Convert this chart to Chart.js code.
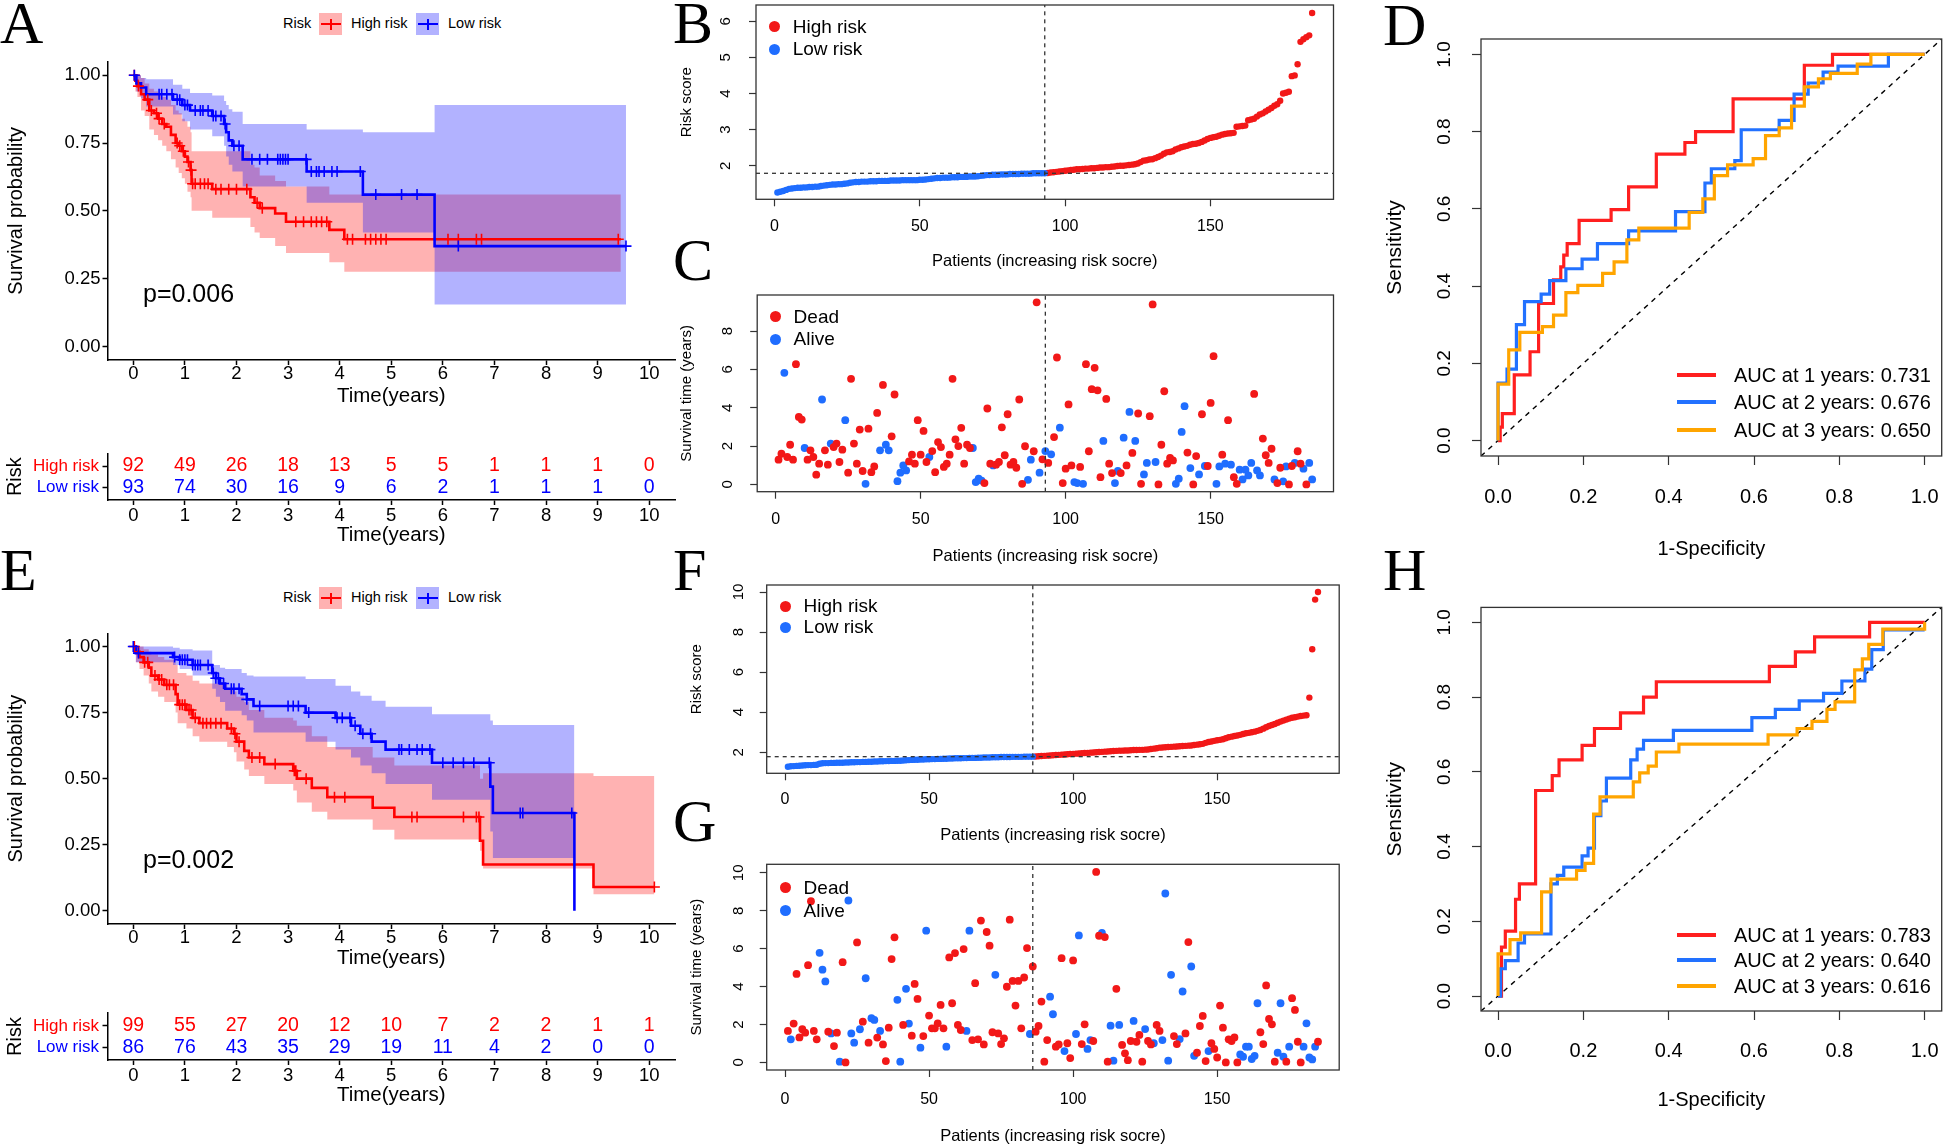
<!DOCTYPE html>
<html>
<head>
<meta charset="utf-8">
<title>Risk model panels</title>
<script src="https://cdn.jsdelivr.net/npm/chart.js@4.4.1/dist/chart.umd.min.js"></script>
<style>
  html, body { margin: 0; padding: 0; background: #fff; }
  #page { position: relative; width: 1944px; height: 1148px; overflow: hidden; background: #fff; }
  #page canvas { position: absolute; }
  .txt { position: absolute; white-space: nowrap; }
  .key { position: absolute; }
</style>
</head>
<body>
<div id="page">
  <canvas id="kmA"></canvas>
  <canvas id="tabA"></canvas>
  <canvas id="kmE"></canvas>
  <canvas id="tabE"></canvas>
  <canvas id="scoreB"></canvas>
  <canvas id="survC"></canvas>
  <canvas id="scoreF"></canvas>
  <canvas id="survG"></canvas>
  <canvas id="rocD"></canvas>
  <canvas id="rocH"></canvas>
</div>
<script>
// ---------- values ----------

// Kaplan-Meier panels (A = training set, E = validation set)
const kmYears = [0, 1, 2, 3, 4, 5, 6, 7, 8, 9, 10];
const kmProbTicks = [0, 0.25, 0.5, 0.75, 1];

const aHighTime  = [0, 0.04, 0.08, 0.15, 0.22, 0.31, 0.40, 0.48, 0.56, 0.64, 0.73, 0.82, 0.88, 0.94, 1.0, 1.05, 1.11, 1.13, 1.53, 2.27, 2.35, 2.45, 2.75, 2.96, 3.80, 4.09, 9.45];
const aHighSurv  = [1, 0.98, 0.96, 0.93, 0.91, 0.87, 0.86, 0.84, 0.82, 0.81, 0.78, 0.75, 0.74, 0.72, 0.70, 0.68, 0.65, 0.60, 0.58, 0.55, 0.53, 0.51, 0.49, 0.46, 0.43, 0.395, 0.395];
const aHighUpper = [1, 1, 1, 0.99, 0.97, 0.95, 0.94, 0.93, 0.92, 0.91, 0.89, 0.87, 0.86, 0.84, 0.83, 0.81, 0.79, 0.72, 0.72, 0.67, 0.66, 0.63, 0.61, 0.59, 0.56, 0.56, 0.56];
const aHighLower = [1, 0.94, 0.92, 0.87, 0.85, 0.80, 0.78, 0.76, 0.74, 0.72, 0.69, 0.66, 0.64, 0.62, 0.60, 0.57, 0.55, 0.50, 0.475, 0.44, 0.42, 0.40, 0.37, 0.345, 0.31, 0.275, 0.275];
const aHighCensor = [0.02, 0.1, 0.28, 0.35, 0.45, 0.5, 0.6, 0.85, 0.9, 0.97, 1.07, 1.12, 1.15, 1.2, 1.3, 1.38, 1.45, 1.6, 1.7, 1.85, 2.0, 2.2, 2.4, 2.5, 3.15, 3.3, 3.45, 3.55, 3.65, 3.75, 4.15, 4.25, 4.5, 4.6, 4.7, 4.8, 4.9, 6.1, 6.3, 6.65, 6.75, 9.4];

const aLowTime  = [0, 0.06, 0.15, 0.25, 0.77, 0.95, 1.1, 1.53, 1.76, 1.80, 1.85, 1.92, 2.12, 3.36, 4.45, 5.84, 9.55];
const aLowSurv  = [1, 0.97, 0.955, 0.93, 0.91, 0.89, 0.87, 0.85, 0.82, 0.79, 0.76, 0.74, 0.69, 0.645, 0.56, 0.37, 0.37];
const aLowUpper = [1, 1, 0.99, 0.985, 0.965, 0.95, 0.935, 0.925, 0.905, 0.89, 0.875, 0.865, 0.82, 0.80, 0.79, 0.89, 0.89];
const aLowLower = [1, 0.94, 0.915, 0.885, 0.855, 0.83, 0.80, 0.775, 0.74, 0.70, 0.67, 0.645, 0.59, 0.53, 0.42, 0.155, 0.155];
const aLowCensor = [0.02, 0.5, 0.55, 0.65, 0.75, 0.85, 0.9, 1.0, 1.05, 1.2, 1.3, 1.35, 1.45, 1.55, 1.6, 1.7, 1.78, 1.95, 2.05, 2.3, 2.45, 2.6, 2.8, 2.85, 2.9, 2.95, 3.0, 3.35, 3.45, 3.55, 3.6, 3.7, 3.85, 3.95, 4.4, 4.7, 5.2, 5.5, 6.3, 9.55];

const eHighTime  = [0, 0.05, 0.12, 0.2, 0.3, 0.35, 0.48, 0.6, 0.82, 0.86, 1.03, 1.15, 1.28, 1.82, 1.95, 2.0, 2.15, 2.24, 2.54, 3.1, 3.17, 3.46, 3.76, 4.64, 5.06, 6.72, 6.78, 8.92, 10.1];
const eHighSurv  = [1, 0.98, 0.96, 0.94, 0.92, 0.89, 0.875, 0.855, 0.82, 0.78, 0.76, 0.73, 0.71, 0.69, 0.67, 0.64, 0.605, 0.58, 0.555, 0.53, 0.50, 0.465, 0.43, 0.39, 0.355, 0.265, 0.175, 0.09, 0.09];
const eHighUpper = [1, 1, 1, 0.99, 0.98, 0.97, 0.96, 0.95, 0.93, 0.90, 0.89, 0.87, 0.86, 0.84, 0.83, 0.81, 0.79, 0.76, 0.73, 0.72, 0.70, 0.66, 0.62, 0.58, 0.55, 0.50, 0.52, 0.51, 0.51];
const eHighLower = [1, 0.94, 0.915, 0.89, 0.86, 0.83, 0.81, 0.79, 0.75, 0.71, 0.69, 0.66, 0.64, 0.62, 0.60, 0.565, 0.535, 0.51, 0.48, 0.455, 0.41, 0.375, 0.345, 0.307, 0.27, 0.227, 0.16, 0.063, 0.015];
const eHighCensor = [0.02, 0.1, 0.22, 0.28, 0.42, 0.5, 0.55, 0.65, 0.7, 0.78, 0.9, 0.95, 1.0, 1.08, 1.12, 1.2, 1.35, 1.42, 1.5, 1.6, 1.7, 1.9, 1.97, 2.05, 2.3, 2.45, 2.75, 3.12, 3.15, 3.35, 3.9, 4.1, 5.4, 5.5, 6.4, 6.65, 6.7, 10.1];

const eLowTime  = [0, 0.05, 0.77, 0.9, 1.15, 1.53, 1.6, 1.68, 1.78, 2.1, 2.2, 2.33, 3.34, 3.92, 4.22, 4.4, 4.62, 4.89, 5.79, 6.92, 6.97, 8.55];
const eLowSurv  = [1, 0.975, 0.96, 0.95, 0.93, 0.90, 0.88, 0.86, 0.84, 0.82, 0.80, 0.775, 0.75, 0.73, 0.70, 0.67, 0.64, 0.61, 0.56, 0.47, 0.37, 0];
const eLowUpper = [1, 1, 0.995, 0.99, 0.985, 0.93, 0.93, 0.92, 0.915, 0.90, 0.89, 0.887, 0.877, 0.852, 0.83, 0.814, 0.795, 0.772, 0.744, 0.72, 0.703, 0.703];
const eLowLower = [1, 0.94, 0.93, 0.915, 0.89, 0.84, 0.81, 0.79, 0.757, 0.74, 0.72, 0.675, 0.64, 0.61, 0.58, 0.55, 0.52, 0.48, 0.42, 0.30, 0.20, 0.20];
const eLowCensor = [0.0, 0.1, 0.8, 0.9, 0.95, 1.0, 1.05, 1.15, 1.2, 1.25, 1.3, 1.45, 1.55, 1.6, 1.65, 1.75, 1.9, 1.95, 2.05, 2.2, 2.45, 3.0, 3.1, 3.2, 3.4, 3.95, 4.05, 4.2, 4.3, 4.45, 4.6, 5.15, 5.2, 5.35, 5.5, 5.6, 5.75, 6.0, 6.2, 6.4, 6.6, 6.9, 7.5, 7.55, 8.5];

const aAtRiskHigh = [92, 49, 26, 18, 13, 5, 5, 1, 1, 1, 0];
const aAtRiskLow  = [93, 74, 30, 16, 9, 6, 2, 1, 1, 1, 0];
const eAtRiskHigh = [99, 55, 27, 20, 12, 10, 7, 2, 2, 1, 1];
const eAtRiskLow  = [86, 76, 43, 35, 29, 19, 11, 4, 2, 0, 0];
const pValueA = 'p=0.006';
const pValueE = 'p=0.002';

// risk score curves (B, F), patients sorted by score
const patientTicks = [0, 50, 100, 150];
const bScoreLow = [1.26, 1.28, 1.30, 1.33, 1.36, 1.37, 1.38, 1.39, 1.39, 1.40, 1.40, 1.41, 1.41, 1.42, 1.42, 1.44, 1.45, 1.46, 1.47, 1.48,
  1.48, 1.49, 1.49, 1.50, 1.51, 1.53, 1.54, 1.55, 1.55, 1.56, 1.56, 1.56, 1.57, 1.57, 1.57, 1.58, 1.58, 1.58, 1.58, 1.59,
  1.59, 1.59, 1.59, 1.60, 1.60, 1.60, 1.60, 1.60, 1.60, 1.61, 1.61, 1.62, 1.63, 1.64, 1.65, 1.66, 1.66, 1.67, 1.67, 1.67,
  1.68, 1.68, 1.68, 1.69, 1.69, 1.69, 1.70, 1.70, 1.70, 1.71, 1.72, 1.73, 1.74, 1.74, 1.75, 1.75, 1.75, 1.76, 1.76, 1.76,
  1.77, 1.77, 1.77, 1.77, 1.78, 1.78, 1.78, 1.78, 1.79, 1.79, 1.79, 1.79, 1.79];
const bScoreHigh = [1.80, 1.81, 1.82, 1.83, 1.84, 1.85, 1.86, 1.87, 1.88, 1.89, 1.90, 1.90, 1.91, 1.92, 1.92, 1.93, 1.93, 1.94, 1.95, 1.95,
  1.96, 1.96, 1.97, 1.98, 1.99, 2.00, 2.00, 2.01, 2.02, 2.03, 2.04, 2.06, 2.10, 2.14, 2.15, 2.17, 2.18, 2.21, 2.24, 2.28,
  2.33, 2.37, 2.38, 2.40, 2.45, 2.48, 2.51, 2.53, 2.55, 2.58, 2.60, 2.61, 2.63, 2.66, 2.70, 2.74, 2.77, 2.79, 2.80, 2.83,
  2.86, 2.88, 2.89, 2.90, 2.91, 3.08, 3.09, 3.10, 3.11, 3.26, 3.28, 3.30, 3.36, 3.42, 3.45, 3.50, 3.55, 3.60, 3.66, 3.70,
  3.80, 4.00, 4.02, 4.05, 4.48, 4.50, 4.81, 5.43, 5.50, 5.56, 5.61, 6.23];
const bCutoff = 1.79;
const bScoreTicks = [2, 3, 4, 5, 6];

const fScoreLow = [1.28, 1.30, 1.31, 1.32, 1.33, 1.34, 1.35, 1.36, 1.36, 1.37, 1.38, 1.43, 1.45, 1.46, 1.46, 1.47, 1.47, 1.48, 1.48, 1.48,
  1.49, 1.49, 1.50, 1.50, 1.51, 1.51, 1.52, 1.52, 1.53, 1.53, 1.54, 1.54, 1.55, 1.55, 1.56, 1.56, 1.57, 1.57, 1.58, 1.58,
  1.59, 1.60, 1.61, 1.62, 1.63, 1.63, 1.64, 1.64, 1.65, 1.65, 1.66, 1.66, 1.67, 1.67, 1.68, 1.68, 1.69, 1.69, 1.70, 1.70,
  1.70, 1.71, 1.71, 1.72, 1.72, 1.72, 1.73, 1.73, 1.74, 1.74, 1.74, 1.75, 1.75, 1.75, 1.76, 1.76, 1.76, 1.76, 1.77, 1.77,
  1.77, 1.77, 1.78, 1.78, 1.78, 1.78];
const fScoreHigh = [1.79, 1.80, 1.81, 1.82, 1.83, 1.84, 1.85, 1.86, 1.87, 1.88, 1.89, 1.90, 1.91, 1.92, 1.93, 1.94, 1.95, 1.96, 1.97, 1.98,
  1.99, 2.00, 2.01, 2.02, 2.03, 2.04, 2.05, 2.06, 2.07, 2.08, 2.08, 2.09, 2.09, 2.10, 2.11, 2.11, 2.12, 2.12, 2.13, 2.14,
  2.16, 2.18, 2.20, 2.23, 2.24, 2.25, 2.26, 2.27, 2.28, 2.29, 2.30, 2.31, 2.32, 2.33, 2.34, 2.36, 2.38, 2.40, 2.42, 2.47,
  2.51, 2.54, 2.57, 2.60, 2.62, 2.65, 2.70, 2.75, 2.78, 2.81, 2.84, 2.87, 2.91, 2.95, 2.97, 3.00, 3.03, 3.07, 3.11, 3.18,
  3.25, 3.31, 3.36, 3.41, 3.47, 3.53, 3.58, 3.63, 3.68, 3.72, 3.75, 3.78, 3.81, 3.83, 3.85, 4.73, 7.14, 9.62, 10.0];
const fCutoff = 1.78;
const fScoreTicks = [2, 4, 6, 8, 10];

// survival time (years) and status (1 = dead, 0 = alive) in the same patient order (C, G)
const cTime = [1.29, 1.60, 5.82, 1.43, 2.07, 1.29, 6.27, 3.52, 3.38, 1.90, 1.29, 1.78, 1.43, 0.51, 1.08, 4.43, 1.78, 1.03, 2.13, 1.95,
  2.13, 1.17, 1.81, 3.35, 0.61, 5.51, 2.13, 1.08, 2.86, 0.70, 0.03, 2.91, 0.64, 0.94, 3.73, 1.78, 5.19, 2.07, 1.78, 2.51,
  4.69, 0.17, 0.61, 0.99, 0.73, 1.20, 1.55, 1.08, 3.35, 1.55, 2.79, 1.17, 1.43, 1.74, 0.64, 2.21, 1.95, 0.91, 1.08, 1.55,
  5.51, 2.35, 2.00, 2.95, 1.08, 2.07, 1.90, 1.90, 0.12, 0.30, 0.20, 0.07, 3.96, 1.08, 0.99, 1.03, 1.17, 2.98, 1.52, 3.66,
  1.03, 1.17, 0.87, 4.43, 0.03, 1.99, 0.24, 1.29, 1.73, 9.50, 0.61, 1.31, 1.74, 1.12, 1.57, 2.47, 6.62, 2.96, 0.07, 0.82,
  4.17, 0.99, 0.12, 0.07, 0.91, 0.03, 6.27, 1.73, 4.97, 6.08, 4.91, 0.38, 2.27, 4.46, 1.08, 0.59, 0.07, 0.70, 0.59, 2.44,
  0.99, 3.78, 1.64, 2.27, 3.70, 0.03, 0.52, 1.12, 3.56, 9.39, 1.17, 0.00, 2.07, 4.86, 1.08, 1.38, 1.25, 0.03, 0.30, 2.74,
  4.08, 1.66, 0.85, 0.00, 1.48, 0.52, 3.66, 0.96, 0.96, 4.25, 6.69, 0.03, 0.94, 1.55, 1.08, 3.35, 1.03, 0.38, 0.03, 0.77,
  0.26, 0.77, 0.47, 1.12, 4.72, 0.73, 0.47, 2.39, 1.52, 1.12, 1.86, 0.26, 0.07, 0.87, 0.16, 0.94, 0.00, 0.96, 1.12, 1.73,
  1.08, 0.82, 0.00, 1.12, 0.26];
const cStatus = [1,1,0,1,1,1,1,1,1,0, 1,1,1,1,1,0,1,1,0,1, 1,1,1,0,1,1,1,1,1,1, 0,1,1,1,1,0,1,0,0,1,
  1,0,0,0,0,1,1,1,1,1, 1,1,0,1,1,1,1,1,1,1, 1,1,1,1,1,1,1,0,0,0, 0,1,1,1,0,1,1,1,1,1,
  1,1,1,1,1,1,0,0,1,1, 0,1,0,1,0,1,1,0,1,1, 1,1,0,0,1,0,1,1,1,1, 1,1,0,1,1,1,0,0,1,0,
  1,0,1,0,1,1,0,0,1,1, 0,1,1,1,1,1,1,0,0,0, 0,1,0,1,1,0,1,0,1,1, 1,0,0,1,0,1,0,1,1,0,
  0,0,0,0,1,0,0,1,1,1, 1,0,1,1,0,0,1,1,0,1, 1,0,1,0,0];
const cTimeTicks = [0, 2, 4, 6, 8];

const gTime = [1.66, 1.22, 2.05, 4.67, 1.32, 1.75, 1.57, 5.13, 8.50, 1.66, 1.22, 5.78, 4.89, 4.27, 1.62, 1.53, 0.86, 1.57, 0.04, 5.29,
  0.00, 8.54, 1.53, 1.04, 6.33, 1.75, 2.15, 4.44, 1.04, 2.33, 2.24, 1.31, 1.66, 0.95, 0.07, 1.83, 5.45, 6.60, 3.30, 0.04,
  1.98, 3.88, 2.05, 1.41, 4.14, 3.35, 0.78, 1.39, 6.95, 2.47, 1.80, 1.80, 2.06, 3.03, 1.80, 0.83, 5.54, 3.12, 5.77, 1.98,
  1.71, 5.98, 1.66, 6.95, 1.18, 4.18, 1.22, 7.48, 0.95, 6.88, 6.16, 1.59, 4.62, 1.53, 0.97, 1.27, 3.99, 7.53, 4.30, 3.00,
  4.30, 1.80, 4.48, 6.03, 1.50, 5.06, 1.62, 1.92, 3.21, 0.04, 1.18, 3.47, 2.54, 0.83, 0.95, 5.50, 0.60, 1.01, 0.23, 5.38,
  1.50, 6.70, 0.97, 2.01, 0.71, 1.18, 1.13, 10.05, 6.68, 6.83, 6.61, 0.04, 1.94, 0.09, 3.88, 1.98, 0.92, 0.48, 0.12, 1.13,
  2.19, 1.09, 1.45, 0.04, 1.76, 1.13, 0.95, 1.01, 1.98, 1.66, 1.18, 8.91, 0.09, 4.62, 1.39, 0.97, 1.23, 3.74, 1.53, 6.35,
  5.06, 0.35, 0.51, 1.92, 2.45, 0.07, 0.60, 1.01, 0.71, 0.26, 3.00, 1.83, 0.00, 1.22, 1.13, 1.32, 0.00, 0.42, 0.30, 0.83,
  0.83, 0.18, 0.35, 3.12, 1.59, 0.97, 4.06, 2.29, 2.01, 0.04, 0.51, 3.12, 0.30, 0.04, 0.83, 3.39, 2.77, 1.09, 0.00, 0.83,
  2.06, 0.26, 0.16, 0.83, 1.09];
const gStatus = [1,0,1,1,1,1,1,1,1,1, 1,0,0,0,1,0,1,1,0,1, 1,0,0,0,1,0,1,0,1,0, 0,1,0,1,1,1,1,1,0,0,
  1,0,0,1,1,1,0,1,0,1, 1,1,1,1,1,0,1,1,1,1, 1,1,0,0,1,1,1,1,1,1, 1,1,0,1,1,1,1,1,1,1,
  1,1,1,1,0,1,1,1,1,1, 1,0,0,1,1,1,0,1,1,1, 0,0,1,1,0,0,1,1,1,0, 1,1,0,0,1,0,1,1,1,1,
  0,1,1,1,0,1,1,0,1,1, 0,0,0,0,1,1,0,0,1,1, 0,0,1,1,1,1,0,1,1,1, 1,1,1,1,1,1,1,0,0,0,
  0,0,0,0,1,1,1,1,1,1, 0,0,0,1,0,1,1,1,1,0, 0,0,0,0,1];
const gTimeTicks = [0, 2, 4, 6, 8, 10];

// time-dependent ROC curves (D, H): corner points, 1-specificity / sensitivity
const rocTicks = [0, 0.2, 0.4, 0.6, 0.8, 1.0];
const dFpr1 = [0, 0.005, 0.01, 0.038, 0.075, 0.095, 0.13, 0.147, 0.154, 0.162, 0.19, 0.265, 0.306, 0.371, 0.438, 0.463, 0.551, 0.718, 0.784, 1.0];
const dTpr1 = [0, 0.035, 0.07, 0.17, 0.23, 0.355, 0.416, 0.45, 0.48, 0.51, 0.57, 0.598, 0.657, 0.742, 0.772, 0.80, 0.885, 0.972, 1.0, 1.0];
const dFpr2 = [0, 0, 0.021, 0.043, 0.062, 0.101, 0.121, 0.159, 0.197, 0.233, 0.306, 0.416, 0.485, 0.5, 0.555, 0.57, 0.659, 0.694, 0.727, 0.762, 0.797, 0.915, 1.0];
const dTpr2 = [0, 0.149, 0.185, 0.30, 0.36, 0.379, 0.414, 0.445, 0.47, 0.51, 0.543, 0.593, 0.667, 0.704, 0.725, 0.805, 0.829, 0.897, 0.926, 0.954, 0.97, 1.0, 1.0];
const dFpr3 = [0, 0, 0.025, 0.051, 0.104, 0.13, 0.159, 0.187, 0.245, 0.272, 0.302, 0.33, 0.448, 0.48, 0.507, 0.538, 0.598, 0.627, 0.659, 0.688, 0.718, 0.751, 0.779, 0.842, 0.874, 1.0];
const dTpr3 = [0, 0.146, 0.235, 0.28, 0.295, 0.325, 0.383, 0.402, 0.433, 0.463, 0.52, 0.55, 0.591, 0.626, 0.686, 0.714, 0.73, 0.79, 0.81, 0.866, 0.916, 0.937, 0.951, 0.975, 1.0, 1.0];
const dAuc = [0.731, 0.676, 0.650];

const hFpr1 = [0, 0.008, 0.017, 0.041, 0.05, 0.088, 0.127, 0.143, 0.197, 0.226, 0.287, 0.341, 0.371, 0.636, 0.697, 0.742, 0.871, 1.0];
const hTpr1 = [0, 0.131, 0.174, 0.259, 0.30, 0.55, 0.59, 0.632, 0.671, 0.716, 0.758, 0.80, 0.841, 0.882, 0.921, 0.961, 1.0, 1.0];
const hFpr2 = [0, 0.006, 0.017, 0.047, 0.062, 0.124, 0.139, 0.154, 0.197, 0.211, 0.226, 0.241, 0.254, 0.311, 0.326, 0.341, 0.411, 0.595, 0.65, 0.706, 0.763, 0.806, 0.86, 0.876, 0.903, 1.0];
const hTpr2 = [0, 0.073, 0.095, 0.142, 0.166, 0.30, 0.323, 0.345, 0.375, 0.396, 0.483, 0.522, 0.583, 0.632, 0.661, 0.684, 0.711, 0.745, 0.767, 0.79, 0.81, 0.843, 0.875, 0.927, 0.98, 0.98];
const hFpr3 = [0, 0, 0.028, 0.053, 0.102, 0.124, 0.184, 0.204, 0.224, 0.239, 0.317, 0.332, 0.352, 0.371, 0.424, 0.633, 0.701, 0.736, 0.771, 0.79, 0.836, 0.854, 0.869, 0.902, 1.0];
const hTpr3 = [0, 0.113, 0.151, 0.169, 0.279, 0.313, 0.336, 0.355, 0.487, 0.533, 0.573, 0.597, 0.615, 0.653, 0.674, 0.699, 0.716, 0.735, 0.767, 0.787, 0.873, 0.902, 0.941, 0.982, 1.0];
const hAuc = [0.783, 0.640, 0.616];

// ---------- styling ----------
const RED = '#FF0000', BLUE = '#0000FF';
const PT_RED = '#F21818', PT_BLUE = '#1F6DFF';
const ROC_COLORS = ['#FF1F1F', '#2271FF', '#FFA500'];
const SANS = '"Liberation Sans", Arial, sans-serif';
const SERIF = '"Liberation Serif", "Times New Roman", serif';

Chart.defaults.font.family = SANS;
Chart.defaults.color = '#000';

const page = document.getElementById('page');
const atRiskTables = {};

function place(id, box) {
  const c = document.getElementById(id);
  c.width = box[2]; c.height = box[3];
  c.style.left = box[0] + 'px'; c.style.top = box[1] + 'px';
  c.style.width = box[2] + 'px'; c.style.height = box[3] + 'px';
  return c;
}

// box = canvas [left, top, width, height], area = plot [left, top, right, bottom], page px
function geom(box, area, yTitleX, yTitleLH, xTitleY, xTitleLH) {
  const padL = yTitleX - yTitleLH / 2 - box[0];
  const xBottom = xTitleY + xTitleLH / 2;
  return {
    padding: {left: padL, top: area[1] - box[1], right: box[0] + box[2] - area[2], bottom: box[1] + box[3] - xBottom},
    yW: area[0] - box[0] - padL,
    xH: xBottom - area[3]
  };
}

function pts(xs, ys) { return xs.map((x, i) => ({x: x, y: ys[i]})); }

function survAt(t, times, surv) {
  let s = surv[0];
  for (let i = 0; i < times.length; i++) if (times[i] <= t) s = surv[i];
  return s;
}

// ---------- small plugins ----------
const framePlugin = {
  id: 'frame',
  afterDatasetsDraw(chart, args, opts) {
    if (!opts.color) return;
    const a = chart.chartArea, ctx = chart.ctx;
    ctx.save();
    ctx.strokeStyle = opts.color;
    ctx.lineWidth = opts.width;
    ctx.strokeRect(a.left, a.top, a.right - a.left, a.bottom - a.top);
    ctx.restore();
  }
};
const rotYPlugin = {
  id: 'rotY',
  afterDraw(chart, args, opts) {
    if (opts.x === undefined) return;
    const s = chart.scales.y, ctx = chart.ctx;
    ctx.save();
    ctx.font = opts.font;
    ctx.fillStyle = '#000';
    ctx.textAlign = 'center';
    ctx.textBaseline = 'middle';
    s.ticks.forEach(t => {
      ctx.save();
      ctx.translate(opts.x, s.getPixelForValue(t.value));
      ctx.rotate(-Math.PI / 2);
      ctx.fillText(String(t.label), 0, 0);
      ctx.restore();
    });
    ctx.restore();
  }
};
const atRiskPlugin = {
  id: 'atRisk',
  afterDraw(chart) {
    const tab = atRiskTables[chart.canvas.id];
    if (!tab) return;
    const xs = chart.scales.x, ys = chart.scales.y, ctx = chart.ctx;
    ctx.save();
    ctx.font = '19.5px ' + SANS;
    ctx.textAlign = 'center';
    ctx.textBaseline = 'middle';
    kmYears.forEach((yr, i) => {
      ctx.fillStyle = RED;
      ctx.fillText(String(tab.high[i]), xs.getPixelForValue(yr), ys.getPixelForValue(2));
      ctx.fillStyle = BLUE;
      ctx.fillText(String(tab.low[i]), xs.getPixelForValue(yr), ys.getPixelForValue(1));
    });
    ctx.restore();
  }
};
Chart.register(framePlugin, rotYPlugin, atRiskPlugin);

// ---------- ggplot-like axes for the survival panels ----------
const ggGrid = {display: true, drawOnChartArea: false, drawTicks: true, tickLength: 5, tickWidth: 1.5, tickColor: '#000'};
const ggBorder = {display: true, color: '#000', width: 1.5};

function kmXAxis(geo, pad) {
  return {
    type: 'linear', min: -0.5, max: 10.5,
    afterBuildTicks: s => { s.ticks = kmYears.map(v => ({value: v})); },
    afterFit: s => { s.height = geo.xH; s.paddingLeft = 0; s.paddingRight = 0; },
    grid: ggGrid, border: ggBorder,
    ticks: {autoSkip: false, maxRotation: 0, minRotation: 0, padding: pad, color: '#000', font: {family: SANS, size: 18.5, lineHeight: 1}},
    title: {display: true, text: 'Time(years)', color: '#000', padding: 0, font: {family: SANS, size: 20.5, lineHeight: 1.2}}
  };
}

function kmChart(id, box, area, xTitleY, xPad, h, l) {
  place(id, box);
  const geo = geom(box, area, 16.5, 24, xTitleY, 24.6);
  const band = (t, v, color, fill, order) => ({
    type: 'line', data: pts(t, v), stepped: true, pointRadius: 0, borderWidth: 0,
    borderColor: 'rgba(0,0,0,0)', backgroundColor: color, fill: fill, order: order
  });
  const curve = (t, v, color, order) => ({
    type: 'line', data: pts(t, v), stepped: true, pointRadius: 0, borderWidth: 2.6,
    borderColor: color, fill: false, order: order
  });
  const marks = (c, t, v, color, order) => ({
    type: 'scatter', data: c.map(x => ({x: x, y: survAt(x, t, v)})), pointStyle: 'cross',
    pointRadius: 5.5, borderWidth: 1.6, borderColor: color, backgroundColor: color, order: order
  });
  return new Chart(document.getElementById(id), {
    type: 'line',
    data: {datasets: [
      band(h.time, h.upper, 'rgba(255,0,0,0.3)', '+1', 6),
      band(h.time, h.lower, 'rgba(0,0,0,0)', false, 6),
      band(l.time, l.upper, 'rgba(0,0,255,0.3)', '+1', 5),
      band(l.time, l.lower, 'rgba(0,0,0,0)', false, 5),
      curve(h.time, h.surv, RED, 4),
      curve(l.time, l.surv, BLUE, 3),
      marks(h.censor, h.time, h.surv, RED, 2),
      marks(l.censor, l.time, l.surv, BLUE, 1)
    ]},
    options: {
      responsive: false, animation: false, devicePixelRatio: 1, events: [],
      layout: {padding: geo.padding, autoPadding: false},
      plugins: {legend: {display: false}, tooltip: {enabled: false}},
      scales: {
        x: kmXAxis(geo, xPad),
        y: {
          type: 'linear', min: -0.05, max: 1.05,
          afterBuildTicks: s => { s.ticks = kmProbTicks.map(v => ({value: v})); },
          afterFit: s => { s.width = geo.yW; s.paddingTop = 0; s.paddingBottom = 0; },
          grid: ggGrid, border: ggBorder,
          ticks: {autoSkip: false, padding: 2, color: '#000', font: {family: SANS, size: 18.5}, callback: v => v.toFixed(2)},
          title: {display: true, text: 'Survival probability', color: '#000', padding: 0, font: {family: SANS, size: 20, lineHeight: 1.2}}
        }
      }
    }
  });
}

function riskTable(id, box, area, xTitleY, xPad, high, low) {
  place(id, box);
  atRiskTables[id] = {high: high, low: low};
  const geo = geom(box, area, 15, 24, xTitleY, 24.6);
  return new Chart(document.getElementById(id), {
    type: 'line',
    data: {datasets: []},
    options: {
      responsive: false, animation: false, devicePixelRatio: 1, events: [],
      layout: {padding: geo.padding, autoPadding: false},
      plugins: {legend: {display: false}, tooltip: {enabled: false}},
      scales: {
        x: kmXAxis(geo, xPad),
        y: {
          type: 'linear', min: 0.4, max: 2.6,
          afterBuildTicks: s => { s.ticks = [{value: 1}, {value: 2}]; },
          afterFit: s => { s.width = geo.yW; s.paddingTop = 0; s.paddingBottom = 0; },
          grid: ggGrid, border: ggBorder,
          ticks: {autoSkip: false, padding: 3.5, font: {family: SANS, size: 17},
                  color: c => (c.tick && c.tick.value === 2 ? RED : BLUE),
                  callback: v => (v === 2 ? 'High risk' : 'Low risk')},
          title: {display: true, text: 'Risk', color: '#000', padding: 0, font: {family: SANS, size: 20, lineHeight: 1.2}}
        }
      }
    }
  });
}

// ---------- base-R-like boxed panels ----------
function boxChart(id, box, area, s) {
  place(id, box);
  const geo = geom(box, area, s.yTitleX, s.yTitleSize * 1.2, s.xTitleY, s.xTitleSize * 1.2);
  const xPad = s.xLabelY - (area[3] + s.tickLen + s.xTickSize / 2);
  const grid = {display: true, drawOnChartArea: false, drawTicks: true, tickLength: s.tickLen, tickWidth: 1.2, tickColor: '#333'};
  return new Chart(document.getElementById(id), {
    type: 'scatter',
    data: {datasets: s.datasets},
    options: {
      responsive: false, animation: false, devicePixelRatio: 1, events: [],
      layout: {padding: geo.padding, autoPadding: false},
      plugins: {
        legend: {display: false}, tooltip: {enabled: false},
        frame: {color: '#333', width: 1.3},
        rotY: {x: s.yLabelX - box[0], font: s.yTickSize + 'px ' + SANS}
      },
      scales: {
        x: {
          type: 'linear', min: s.xMin, max: s.xMax,
          afterBuildTicks: sc => { sc.ticks = s.xTicks.map(v => ({value: v})); },
          afterFit: sc => { sc.height = geo.xH; sc.paddingLeft = 0; sc.paddingRight = 0; },
          grid: grid, border: {display: false},
          ticks: {autoSkip: false, maxRotation: 0, minRotation: 0, padding: xPad, color: '#000',
                  font: {family: SANS, size: s.xTickSize, lineHeight: 1}, callback: s.fmt},
          title: {display: true, text: s.xTitle, color: '#000', padding: 0, font: {family: SANS, size: s.xTitleSize, lineHeight: 1.2}}
        },
        y: {
          type: 'linear', min: s.yMin, max: s.yMax,
          afterBuildTicks: sc => { sc.ticks = s.yTicks.map(v => ({value: v})); },
          afterFit: sc => { sc.width = geo.yW; sc.paddingTop = 0; sc.paddingBottom = 0; },
          grid: grid, border: {display: false},
          ticks: {display: false, autoSkip: false, callback: s.fmt},
          title: {display: true, text: s.yTitle, color: '#000', padding: 0, font: {family: SANS, size: s.yTitleSize, lineHeight: 1.2}}
        }
      }
    }
  });
}

const dashed = (data) => ({type: 'line', data: data, borderColor: '#333', borderWidth: 1.3, borderDash: [4, 4], pointRadius: 0, fill: false});
const dots = (data, color, r) => ({data: data, backgroundColor: color, borderWidth: 0, pointRadius: r});
const intFmt = v => String(v);

function scoreDatasets(low, high, cutoff, yMin, yMax, xMin, xMax) {
  return [
    dashed([{x: low.length, y: yMin}, {x: low.length, y: yMax}]),
    dashed([{x: xMin, y: cutoff}, {x: xMax, y: cutoff}]),
    dots(low.map((v, i) => ({x: i + 1, y: v})), PT_BLUE, 3.2),
    dots(high.map((v, i) => ({x: low.length + i + 1, y: v})), PT_RED, 3.2)
  ];
}
function statusDatasets(time, status, split, yMin, yMax) {
  const dead = [], alive = [];
  time.forEach((t, i) => (status[i] ? dead : alive).push({x: i + 1, y: t}));
  return [
    dashed([{x: split, y: yMin}, {x: split, y: yMax}]),
    dots(dead, PT_RED, 3.9),
    dots(alive, PT_BLUE, 3.9)
  ];
}
function rocDatasets(curves) {
  const ds = curves.map((c, i) => ({
    type: 'line', data: pts(c[0], c[1]), stepped: true, borderColor: ROC_COLORS[i], borderWidth: 3.2,
    pointRadius: 0, fill: false, order: 3 - i
  }));
  ds.push({type: 'line', data: [{x: -0.04, y: -0.04}, {x: 1.04, y: 1.04}], borderColor: '#000', borderWidth: 1.4,
           borderDash: [5, 5], pointRadius: 0, fill: false, order: 5});
  return ds;
}

// ---------- build charts ----------
kmChart('kmA', [0, 50, 690, 365], [107.5, 61.7, 675, 360], 396.7, 0,
  {time: aHighTime, surv: aHighSurv, upper: aHighUpper, lower: aHighLower, censor: aHighCensor},
  {time: aLowTime, surv: aLowSurv, upper: aLowUpper, lower: aLowLower, censor: aLowCensor});
riskTable('tabA', [0, 440, 690, 120], [107.5, 453.3, 675, 500], 535, 2, aAtRiskHigh, aAtRiskLow);

kmChart('kmE', [0, 620, 690, 365], [107.5, 633.3, 675, 924], 958.3, -0.5,
  {time: eHighTime, surv: eHighSurv, upper: eHighUpper, lower: eHighLower, censor: eHighCensor},
  {time: eLowTime, surv: eLowSurv, upper: eLowUpper, lower: eLowLower, censor: eLowCensor});
riskTable('tabE', [0, 1000, 690, 148], [107.5, 1013, 675, 1060], 1095, 2, eAtRiskHigh, eAtRiskLow);

const patientSpec = {xMin: -6.36, xMax: 192.36, xTicks: patientTicks, xTitle: 'Patients (increasing risk socre)',
  xTitleSize: 16.5, yTitleSize: 15, tickLen: 7, xTickSize: 16, yTickSize: 15, fmt: intFmt};

boxChart('scoreB', [670, 0, 680, 280], [756, 5, 1333.5, 199.3], Object.assign({}, patientSpec, {
  yMin: 1.07, yMax: 6.45, yTicks: bScoreTicks, yTitle: 'Risk score',
  yTitleX: 686.5, xTitleY: 261.7, xLabelY: 227, yLabelX: 725.5,
  datasets: scoreDatasets(bScoreLow, bScoreHigh, bCutoff, 1.07, 6.45, -6.36, 192.36)}));

boxChart('survC', [670, 285, 680, 285], [757.2, 295, 1333.5, 491.7], Object.assign({}, patientSpec, {
  yMin: -0.38, yMax: 9.88, yTicks: cTimeTicks, yTitle: 'Survival time (years)',
  yTitleX: 686.5, xTitleY: 556, xLabelY: 519.3, yLabelX: 727.7,
  datasets: statusDatasets(cTime, cStatus, bScoreLow.length, -0.38, 9.88)}));

boxChart('scoreF', [680, 575, 670, 280], [766.7, 585, 1339.2, 773.3], Object.assign({}, patientSpec, {
  yMin: 0.95, yMax: 10.35, yTicks: fScoreTicks, yTitle: 'Risk score',
  yTitleX: 697.3, xTitleY: 835, xLabelY: 800, yLabelX: 738.5,
  datasets: scoreDatasets(fScoreLow, fScoreHigh, fCutoff, 0.95, 10.35, -6.36, 192.36)}));

boxChart('survG', [680, 855, 670, 293], [766.7, 864.3, 1339.2, 1070], Object.assign({}, patientSpec, {
  yMin: -0.4, yMax: 10.45, yTicks: gTimeTicks, yTitle: 'Survival time (years)',
  yTitleX: 697.3, xTitleY: 1136, xLabelY: 1099.3, yLabelX: 738.5,
  datasets: statusDatasets(gTime, gStatus, fScoreLow.length, -0.4, 10.45)}));

const rocSpec = {xMin: -0.04, xMax: 1.04, yMin: -0.04, yMax: 1.04, xTicks: rocTicks, yTicks: rocTicks,
  xTitle: '1-Specificity', yTitle: 'Sensitivity', xTitleSize: 20, yTitleSize: 21, tickLen: 9,
  xTickSize: 20, yTickSize: 19, yTitleX: 1395.4, yLabelX: 1445, fmt: v => v.toFixed(1)};

boxChart('rocD', [1370, 0, 574, 570], [1481, 39, 1941.7, 456], Object.assign({}, rocSpec, {
  xTitleY: 549, xLabelY: 497,
  datasets: rocDatasets([[dFpr1, dTpr1], [dFpr2, dTpr2], [dFpr3, dTpr3]])}));

boxChart('rocH', [1370, 570, 574, 578], [1481, 607.4, 1941.7, 1011], Object.assign({}, rocSpec, {
  xTitleY: 1100, xLabelY: 1051,
  datasets: rocDatasets([[hFpr1, hTpr1], [hFpr2, hTpr2], [hFpr3, hTpr3]])}));

// ---------- text, legends, panel letters ----------
function addText(str, x, y, font, color, align) {
  const d = document.createElement('div');
  d.className = 'txt';
  d.textContent = str;
  d.style.font = font;
  d.style.lineHeight = '1.2';
  d.style.color = color || '#000';
  d.style.left = x + 'px';
  d.style.top = y + 'px';
  const tx = align === 'center' ? '-50%' : align === 'right' ? '-100%' : '0';
  d.style.transform = 'translate(' + tx + ', -50%)';
  page.appendChild(d);
  return d;
}
function addBox(x, y, w, h, css) {
  const d = document.createElement('div');
  d.className = 'key';
  d.style.left = x + 'px'; d.style.top = y + 'px';
  d.style.width = w + 'px'; d.style.height = h + 'px';
  Object.assign(d.style, css);
  page.appendChild(d);
  return d;
}

// survminer legends above A and E
function kmLegend(cy) {
  addText('Risk', 283, cy, '14.5px ' + SANS);
  [[319, 'rgba(255,0,0,0.3)', RED, 'High risk', 351], [416, 'rgba(0,0,255,0.3)', BLUE, 'Low risk', 448]].forEach(k => {
    addBox(k[0], cy - 11, 23, 22, {background: k[1]});
    addBox(k[0] + 1.5, cy - 1.3, 20, 2.6, {background: k[2]});
    addBox(k[0] + 10.5, cy - 5.5, 2, 11, {background: k[2]});
    addText(k[3], k[4], cy, '14.5px ' + SANS);
  });
}
kmLegend(24);
kmLegend(598);
addText(pValueA, 143, 293, '25px ' + SANS);
addText(pValueE, 143, 859, '25px ' + SANS);

// point legends in B, C, F, G
function dotLegend(cx, tx, rows) {
  rows.forEach(r => {
    addBox(cx - 5.5, r[0] - 5.5, 11, 11, {background: r[1], borderRadius: '50%'});
    addText(r[2], tx, r[0], '19px ' + SANS);
  });
}
dotLegend(774, 792.7, [[26.7, PT_RED, 'High risk'], [49, PT_BLUE, 'Low risk']]);
dotLegend(775.4, 793.6, [[316.7, PT_RED, 'Dead'], [339, PT_BLUE, 'Alive']]);
dotLegend(785, 803.6, [[606, PT_RED, 'High risk'], [627.3, PT_BLUE, 'Low risk']]);
dotLegend(785, 803.6, [[887.7, PT_RED, 'Dead'], [910.7, PT_BLUE, 'Alive']]);

// ROC legends
function rocLegend(rows, auc) {
  rows.forEach((y, i) => {
    addBox(1677, y - 1.75, 39, 3.5, {background: ROC_COLORS[i]});
    addText('AUC at ' + (i + 1) + ' years: ' + auc[i].toFixed(3), 1734, y, '20px ' + SANS);
  });
}
rocLegend([375, 402, 430], dAuc);
rocLegend([935, 960, 986], hAuc);

// panel letters
[['A', 0, 23], ['B', 673, 23], ['C', 673, 260], ['D', 1383, 25],
 ['E', 0, 570], ['F', 673, 570], ['G', 673, 821], ['H', 1383, 570]].forEach(l => {
  addText(l[0], l[1], l[2], '60px ' + SERIF);
});
</script>
</body>
</html>
